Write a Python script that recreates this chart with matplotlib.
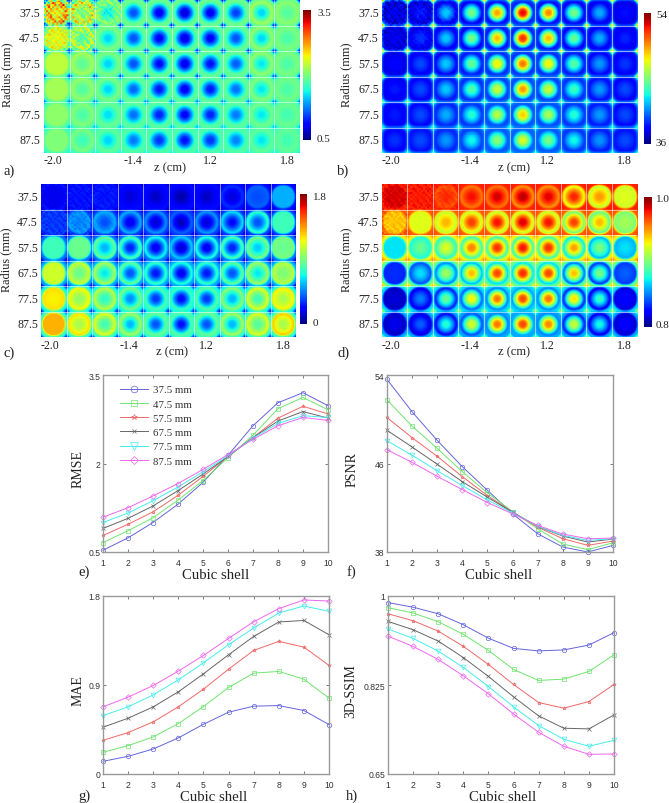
import numpy as np
import matplotlib
matplotlib.use('Agg')
import matplotlib.pyplot as plt

W, H = 669, 804
plt.rcParams['font.family'] = ['Liberation Serif', 'DejaVu Serif']

radii = ['37.5', '47.5', '57.5', '67.5', '77.5', '87.5']
z_labels = ['-2.0', '-1.4', '1.2', '1.8']
shells = list(range(1, 11))
series_names = ['37.5 mm', '47.5 mm', '57.5 mm', '67.5 mm', '77.5 mm', '87.5 mm']

# per tile values: centre of the tile and the ring around it
a_center = [[2.36, 1.94, 1.58, 1.10, .80, .71, .80, 1.04, 1.49, 1.85],
            [2.36, 1.85, 1.49, 1.10, .83, .74, .83, 1.10, 1.49, 1.82],
            [2.24, 1.88, 1.49, 1.10, .86, .77, .89, 1.13, 1.55, 1.82],
            [2.15, 1.85, 1.49, 1.16, .92, .80, .92, 1.19, 1.55, 1.82],
            [2.06, 1.82, 1.52, 1.19, .95, .83, .95, 1.22, 1.55, 1.79],
            [2.00, 1.76, 1.49, 1.22, 1.01, .89, 1.01, 1.25, 1.55, 1.79]]
a_ring = [[2.66, 2.42, 2.06, 1.91, 1.85, 1.82, 1.85, 1.91, 2.15, 2.06],
          [2.36, 2.24, 2.00, 1.88, 1.82, 1.79, 1.82, 1.88, 2.09, 2.00],
          [2.24, 2.15, 2.00, 1.91, 1.85, 1.82, 1.85, 1.91, 2.09, 2.00],
          [2.15, 2.09, 2.00, 1.91, 1.85, 1.85, 1.85, 1.91, 2.03, 1.97],
          [2.06, 2.03, 1.94, 1.88, 1.85, 1.85, 1.85, 1.88, 1.97, 1.94],
          [2.03, 2.00, 1.91, 1.85, 1.82, 1.82, 1.82, 1.85, 1.91, 1.91]]
a_rim = [1.95, 1.92, 1.90, 1.88, 1.85, 1.82]
a_corner = [.65, .74, .80, 1.04, 1.25, 1.55]
a_grain = [[.6, .5, .25], [.3, .35, 0]]

b_center = [[37.8, 38.7, 41.9, 45.0, 49.5, 52.7, 50.0, 45.0, 41.4, 38.5],
            [37.8, 39.2, 41.9, 45.0, 49.0, 51.8, 49.0, 44.6, 41.4, 38.9],
            [38.2, 39.6, 41.9, 44.6, 47.9, 50.4, 47.9, 44.3, 41.0, 39.2],
            [38.7, 39.6, 41.9, 44.1, 46.8, 49.7, 46.8, 43.7, 41.0, 39.6],
            [38.7, 39.6, 41.4, 43.2, 46.4, 48.6, 46.1, 43.2, 41.0, 39.6],
            [39.1, 39.6, 41.0, 42.8, 45.4, 47.2, 45.0, 42.8, 40.9, 39.6]]
b_ring = [[37.3, 37.3, 37.8, 38.2, 38.5, 38.9, 38.5, 38.2, 37.8, 37.6],
          [37.4, 37.6, 38.0, 38.3, 38.7, 38.9, 38.7, 38.3, 38.0, 37.8],
          [37.6, 38.0, 38.3, 38.7, 39.1, 39.2, 39.1, 38.7, 38.3, 38.0],
          [37.8, 38.2, 38.7, 39.1, 39.4, 39.6, 39.4, 39.1, 38.5, 38.2],
          [38.0, 38.3, 38.9, 39.2, 39.6, 39.8, 39.6, 39.2, 38.7, 38.3],
          [38.2, 38.5, 38.9, 39.4, 39.8, 40.0, 39.8, 39.2, 38.7, 38.5]]
b_rim = [40.0, 40.0, 40.2, 40.5, 40.5, 40.5]
b_corner = [49.5, 49.5, 48.6, 45.9, 44.1, 43.6]
b_grain = [[1.3, .9, .4], [.9, .5, 0]]

c_center = [[.18, .25, .25, .14, .11, .07, .11, .14, .36, .54],
            [.32, .45, .36, .18, .13, .09, .14, .22, .36, .76],
            [.76, .86, .54, .27, .18, .13, .18, .27, .58, .85],
            [1.08, .85, .63, .36, .25, .18, .25, .36, .63, .90],
            [1.17, .94, .72, .47, .31, .22, .31, .54, .76, .99],
            [1.30, .99, .76, .54, .36, .23, .36, .54, .81, .99]]
c_ring = [[.18, .25, .27, .23, .23, .22, .23, .31, .40, .54],
          [.32, .49, .54, .54, .49, .40, .50, .63, .76, .76],
          [.76, .85, .86, .81, .68, .59, .72, .81, .90, .90],
          [1.08, 1.08, 1.01, .86, .76, .72, .76, .86, .99, 1.04],
          [1.21, 1.17, 1.04, .90, .81, .76, .83, .94, 1.12, 1.19],
          [1.30, 1.22, 1.12, .99, .86, .81, .86, .99, 1.12, 1.26]]
c_rim = [.24, .32, .42, .52, .68, .76]
c_corner = [.08, .08, .12, .15, .18, .22]
c_grain = [[.04, .05, .04], [.06, .06, .02]]

d_center = [[.984, .976, .974, .980, .986, .990, .984, .976, .950, .924],
            [.940, .924, .944, .970, .980, .986, .980, .970, .944, .910],
            [.870, .896, .924, .956, .974, .980, .974, .950, .900, .870],
            [.834, .870, .910, .944, .970, .976, .970, .944, .900, .844],
            [.816, .850, .896, .932, .960, .970, .960, .936, .884, .826],
            [.820, .844, .880, .924, .960, .970, .956, .920, .876, .824]]
d_ring = [[.984, .976, .964, .956, .956, .950, .950, .924, .916, .920],
          [.940, .924, .916, .916, .914, .916, .914, .896, .892, .900],
          [.870, .876, .880, .884, .884, .884, .884, .870, .860, .860],
          [.832, .840, .850, .860, .866, .868, .866, .844, .834, .836],
          [.812, .820, .830, .844, .850, .856, .850, .830, .820, .816],
          [.812, .816, .824, .840, .850, .860, .850, .830, .820, .814]]
d_rim = [.975, .962, .932, .896, .868, .858]
d_corner = [.976, .970, .960, .956, .924, .900]
d_grain = [[.006, .006, .005], [.008, .003, 0]]

# speckle seen in the first tiles, typed in by hand
grain = [[.6, -.5, .2, 1.0, -.3, -.8, .4, .9, -.6, .1, .7, -.4],
         [-.7, .3, -.9, .1, .8, .2, -.5, -.2, .6, -.8, .2, .9],
         [.2, .9, .4, -.6, -.2, .7, -.9, .5, .1, 1.0, -.5, -.3],
         [-.4, -.1, .8, -.3, .5, -.7, .3, -.8, .9, -.2, .4, -.9],
         [.9, -.6, -.2, .7, -.9, .4, 1.0, .1, -.4, .3, -.7, .5],
         [-.2, .5, -.8, .3, .6, -.1, -.6, .8, -.3, -.9, .8, .1],
         [.4, -.9, .6, -.5, .1, .9, .2, -.7, .5, .2, -.1, -.6],
         [-.8, .2, .1, .9, -.7, -.3, .6, -.1, -.9, .7, .3, .8]]

rmse_vals = [[.53, .74, 1.00, 1.31, 1.68, 2.14, 2.64, 3.03, 3.20, 2.98],
             [.66, .86, 1.08, 1.38, 1.71, 2.10, 2.48, 2.93, 3.12, 2.91],
             [.78, .97, 1.18, 1.46, 1.78, 2.12, 2.44, 2.77, 2.97, 2.84],
             [.90, 1.07, 1.28, 1.54, 1.82, 2.12, 2.44, 2.72, 2.88, 2.77],
             [1.00, 1.16, 1.37, 1.60, 1.86, 2.13, 2.43, 2.68, 2.81, 2.78],
             [1.09, 1.25, 1.45, 1.66, 1.90, 2.15, 2.41, 2.64, 2.78, 2.73]]
psnr_vals = [[53.6, 50.67, 48.09, 45.71, 43.58, 41.45, 39.65, 38.45, 38.0, 38.6],
             [51.75, 49.38, 47.37, 45.26, 43.34, 41.66, 40.1, 38.72, 38.21, 38.84],
             [50.16, 48.33, 46.65, 44.81, 43.1, 41.6, 40.25, 39.2, 38.6, 38.99],
             [49.0, 47.49, 45.93, 44.36, 42.95, 41.6, 40.31, 39.44, 38.9, 39.17],
             [48.06, 46.74, 45.35, 44.0, 42.71, 41.54, 40.34, 39.5, 39.05, 39.2],
             [47.25, 46.1, 44.84, 43.64, 42.47, 41.45, 40.4, 39.62, 39.2, 39.26]]
mae_vals = [[.128, .179, .253, .365, .503, .625, .686, .692, .642, .50],
            [.22, .287, .375, .51, .682, .875, 1.02, 1.037, .959, .767],
            [.341, .419, .527, .679, .858, 1.06, 1.25, 1.341, 1.283, 1.098],
            [.473, .564, .679, .831, 1.013, 1.206, 1.391, 1.537, 1.553, 1.408],
            [.591, .679, .80, .952, 1.125, 1.307, 1.476, 1.628, 1.699, 1.645],
            [.679, .777, .895, 1.04, 1.199, 1.371, 1.54, 1.672, 1.76, 1.749]]
ssim_vals = [[.987, .978, .965, .9435, .917, .897, .892, .894, .9035, .928],
             [.977, .9666, .9495, .9246, .893, .8555, .834, .8366, .8516, .8844],
             [.965, .9514, .931, .901, .8654, .826, .7905, .7794, .7925, .826],
             [.950, .9337, .9113, .879, .8418, .8017, .7643, .74, .7387, .7662],
             [.935, .9166, .8917, .8595, .822, .782, .7452, .7183, .7045, .7163],
             [.921, .9008, .8753, .843, .8076, .768, .732, .7045, .6887, .6894]]

line_colors = ['#6464dc', '#70e470', '#f06868', '#666666', '#48ecec', '#ee66ee']
line_markers = ['o', 's', '*', 'x', 'v', 'D']
line_sizes = [3.2, 3, 2.6, 2.2, 3.4, 2.8]

fig = plt.figure(figsize=(W / 100, H / 100), dpi=100)


def place(x0, y0, x1, y1):
    return fig.add_axes([x0 / W, 1 - y1 / H, (x1 - x0) / W, (y1 - y0) / H])


def put(x, y, s, **kw):
    kw.setdefault('ha', 'center')
    kw.setdefault('va', 'center')
    kw.setdefault('color', '#222222')
    fig.text(x / W, 1 - y / H, s, **kw)


def mosaic(center, ring, rim, corner, speck, p, n=25):
    y, x = np.mgrid[0:n, 0:n]
    x = (x + .5) / n * 2 - 1
    y = (y + .5) / n * 2 - 1
    r = np.hypot(x, y)
    rp = (np.abs(x) ** p + np.abs(y) ** p) ** (1 / p)
    g = np.array(grain)[:, (np.arange(n) // 2) % 12][(np.arange(n) // 2) % 8, :]
    speck = np.array(speck)
    out = np.zeros((6 * n, 10 * n))
    for i in range(6):
        for j in range(10):
            c, q = center[i][j], ring[i][j]
            t = np.interp(r, [0, .25, .55, .82], [0, .08, .5, 1])
            v = c + (q - c) * t
            v = v + (rim[i] - q) * np.clip((rp - .82) / .18, 0, 1)
            v = v + (corner[i] - rim[i]) * np.clip((r - 1.15) / .25, 0, 1)
            if i < 2 and j < 3:
                rows = np.roll(g, 3 * j + 5 * i, axis=1)
                v = v + speck[i, j] * rows * (.3 + .7 * np.clip(r / .72, 0, 1))
            out[i * n:(i + 1) * n, j * n:(j + 1) * n] = v
    return out


def heat_panel(box, cbox, vals, lims, lim_labels, ylab_x, ylab_y, xlab_y, right_edge):
    ax = place(*box)
    im = ax.imshow(mosaic(*vals), cmap='jet', vmin=lims[0], vmax=lims[1], aspect='auto',
                   interpolation='bilinear', extent=[-.5, 9.5, 5.5, -.5])
    for k in range(1, 10):
        ax.axvline(k - .5, color='white', lw=.6, alpha=.65)
    for k in range(1, 6):
        ax.axhline(k - .5, color='white', lw=.6, alpha=.65)
    ax.set_xticks([])
    ax.set_yticks([])
    for s in ax.spines.values():
        s.set_visible(False)
    for k, lab in enumerate(radii):
        y = box[1] + (k + .5) * (box[3] - box[1]) / 6
        put(right_edge, y, lab, ha='right', fontsize=8.6)
    tile = (box[2] - box[0]) / 10
    for k, lab, sh in zip([0, 3, 6, 9], z_labels, [-4, -1, 0, 0]):
        put(box[0] + (k + .5) * tile + sh, xlab_y, lab, fontsize=8.6)
    put(ylab_x, ylab_y, 'Radius (mm)', rotation=90, fontsize=8.8)
    cax = place(*cbox)
    cb = fig.colorbar(im, cax=cax)
    cb.set_ticks([])
    cb.outline.set_visible(False)
    lx = min(cbox[2] + 6, 656)
    put(lx, cbox[1] + 2, lim_labels[1], ha='left', fontsize=8)
    put(lx, cbox[3] - 2, lim_labels[0], ha='left', fontsize=8)


heat_panel((44, 1, 300, 154), (303, 11, 311, 141), (a_center, a_ring, a_rim, a_corner, a_grain, 2.2),
           (.5, 3.5), ('0.5', '3.5'), 7, 75, 161, 40)
heat_panel((382, 1, 637, 154), (644, 14, 651, 145), (b_center, b_ring, b_rim, b_corner, b_grain, 4),
           (36, 54), ('36', '54'), 346, 75, 161, 379)
heat_panel((41, 185, 296, 338), (300, 195, 307, 325), (c_center, c_ring, c_rim, c_corner, c_grain, 2.2),
           (0, 1.8), ('0', '1.8'), 6, 260, 346, 38)
heat_panel((382, 185, 637, 338), (644, 198, 652, 328), (d_center, d_ring, d_rim, d_corner, d_grain, 2.2),
           (.8, 1.0), ('0.8', '1.0'), 346, 260, 346, 379)
put(170, 168, 'z (cm)', fontsize=9)
put(514, 168, 'z (cm)', fontsize=9)
put(172, 352, 'z (cm)', fontsize=9)
put(514, 352, 'z (cm)', fontsize=9)


def line_panel(box, vals, ylim, yticks, ylabels, name, name_x, label_x, label_y):
    ax = place(*box)
    for v, col, mk, ms, nm in zip(vals, line_colors, line_markers, line_sizes, series_names):
        ax.plot(shells, v, color=col, marker=mk, ms=ms, mfc='none', mew=.5, lw=.7, label=nm, clip_on=False)
    ax.set_xlim(1, 10)
    ax.set_ylim(*ylim)
    ax.set_xticks(shells)
    ax.set_yticks(yticks)
    ax.set_yticklabels(ylabels)
    ax.tick_params(direction='in', top=True, right=True, length=2, width=.6, color='#666666',
                   labelsize=6.2, labelcolor='#333333', pad=2)
    ax.tick_params(axis='x', pad=4)
    for t in ax.get_xticklabels() + ax.get_yticklabels():
        t.set_family(['Liberation Sans', 'DejaVu Sans'])
    for s in ax.spines.values():
        s.set_color('#999999')
        s.set_linewidth(1)
    put(name_x, (box[1] + box[3]) / 2 + 5, name, rotation=90, fontsize=10)
    put(label_x, label_y, 'Cubic shell', fontsize=10.6)
    return ax


ax_e = line_panel((103, 376, 328, 553), rmse_vals, (.5, 3.5), [.5, 2, 3.5], ['0.5', '2', '3.5'], 'RMSE', 78, 216, 576)
line_panel((387, 376, 613, 553), psnr_vals, (38, 54), [38, 46, 54], ['38', '46', '54'], 'PSNR', 352, 499, 576)
line_panel((103, 597, 329, 775), mae_vals, (0, 1.8), [0, .9, 1.8], ['0', '0.9', '1.8'], 'MAE', 78, 214, 798)
line_panel((388, 597, 614, 775), ssim_vals, (.65, 1), [.65, .825, 1], ['0.65', '0.825', '1'], '3D-SSIM', 351, 503, 798)
ax_e.legend(loc='upper left', bbox_to_anchor=(.03, 1.0), frameon=False, fontsize=7.8, handlelength=2.6,
            labelspacing=.43, handletextpad=.5, labelcolor='#333333', markerscale=1.5)

for lab, x, y in [('a)', 3, 171), ('b)', 337, 171), ('c)', 3, 353), ('d)', 337, 353),
                  ('e)', 78, 572), ('f)', 347, 572), ('g)', 78, 796), ('h)', 346, 796)]:
    put(x, y, lab, ha='left', fontsize=10.5)

fig.savefig('out.png', dpi=100)
